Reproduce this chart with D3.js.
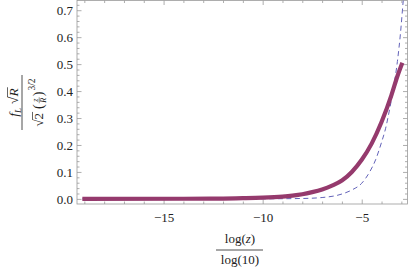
<!DOCTYPE html>
<html>
<head>
<meta charset="utf-8">
<script src="https://cdn.jsdelivr.net/npm/d3@7"></script>
<style>
  body { margin: 0; background: #fff; }
  svg { display: block; }
  text { font-family: "Liberation Serif", "DejaVu Serif", serif; fill: #222; }
</style>
</head>
<body>
<div id="chart"></div>
<script>
// values
var logZ = [-19.1, -14, -12, -11, -10, -9, -8.5, -8, -7.5, -7, -6.5, -6, -5.5, -5, -4.5, -4, -3.5, -3.2, -2.95];
var solidVals = [0, 0.0005, 0.0012, 0.0025, 0.0045, 0.0085, 0.012, 0.017, 0.025, 0.035, 0.049, 0.068, 0.1, 0.145, 0.205, 0.285, 0.385, 0.455, 0.505];
var logZDashed = [-19.1, -10, -8, -7, -6, -5.5, -5, -4.6, -4.3, -4, -3.8, -3.6, -3.4, -3.2, -3.05, -2.9, -2.8];
var dashedVals = [0, 0.0003, 0.0015, 0.005, 0.018, 0.033, 0.058, 0.1, 0.145, 0.21, 0.26, 0.33, 0.41, 0.51, 0.61, 0.74, 0.82];
var xMajor = [-15, -10, -5];
var yMajor = [0, 0.1, 0.2, 0.3, 0.4, 0.5, 0.6, 0.7];

var svgWidth = 409;
var svgHeight = 269;
var margin = {top: 0.5, right: 1.5, bottom: 65, left: 77};
var width = svgWidth - margin.left - margin.right;
var height = svgHeight - margin.top - margin.bottom;

var svg = d3.select("#chart")
  .append("svg")
  .attr("width", svgWidth)
  .attr("height", svgHeight);

var chartGroup = svg.append("g")
  .attr("transform", `translate(${margin.left}, ${margin.top})`);

var xLinearScale = d3.scaleLinear().domain([-19.37, -2.69]).range([0, width]);
var yLinearScale = d3.scaleLinear().domain([-0.019, 0.736]).range([height, 0]);

var xMinor = d3.range(-19, -2).filter(d => xMajor.indexOf(d) < 0);
var yMinor = d3.range(0, 0.74, 0.02).filter(d => Math.abs(d * 10 - Math.round(d * 10)) > 0.01);

// axes with inward ticks on all four sides
function tickAxis(axisFn, scale, values, len, labels) {
  return axisFn(scale).tickValues(values).tickSizeInner(-len).tickSizeOuter(0)
    .tickFormat(labels ? labels : "");
}

var frameColor = "#999";
var axes = [
  {fn: d3.axisBottom, s: xLinearScale, t: `translate(0, ${height})`, lab: d => d3.format("")(d).replace("-", "\u2212")},
  {fn: d3.axisTop, s: xLinearScale, t: "translate(0,0)", lab: null},
  {fn: d3.axisLeft, s: yLinearScale, t: "translate(0,0)", lab: d3.format(".1f")},
  {fn: d3.axisRight, s: yLinearScale, t: `translate(${width},0)`, lab: null}
];
axes.forEach(function(a) {
  var isX = (a.s === xLinearScale);
  var g1 = chartGroup.append("g").attr("transform", a.t)
    .call(tickAxis(a.fn, a.s, isX ? xMajor : yMajor, 4.5, a.lab));
  var g2 = chartGroup.append("g").attr("transform", a.t)
    .call(tickAxis(a.fn, a.s, isX ? xMinor : yMinor, 2.5, null));
  [g1, g2].forEach(function(g) {
    g.select(".domain").remove();
    g.selectAll("line").attr("stroke", frameColor).attr("stroke-width", 0.8);
    g.selectAll("text").style("font-size", "13px").attr("fill", "#222");
  });
  if (a.fn === d3.axisBottom) g1.selectAll("text").attr("dy", "0.71em").attr("y", 9);
  if (a.fn === d3.axisLeft) g1.selectAll("text").attr("x", -4);
});

chartGroup.append("rect")
  .attr("width", width).attr("height", height)
  .attr("fill", "none").attr("stroke", frameColor).attr("stroke-width", 0.8);

chartGroup.append("clipPath").attr("id", "clip")
  .append("rect").attr("width", width).attr("height", height);

var line = d3.line()
  .x(d => xLinearScale(d[0]))
  .y(d => yLinearScale(d[1]))
  .curve(d3.curveMonotoneX);

chartGroup.append("path")
  .datum(d3.zip(logZDashed, dashedVals))
  .attr("clip-path", "url(#clip)")
  .attr("d", line)
  .attr("fill", "none")
  .attr("stroke", "#6262b8")
  .attr("stroke-width", 1)
  .attr("stroke-dasharray", "5,3.5");

chartGroup.append("path")
  .datum(d3.zip(logZ, solidVals))
  .attr("clip-path", "url(#clip)")
  .attr("d", line)
  .attr("fill", "none")
  .attr("stroke", "#953a6d")
  .attr("stroke-width", 4.2)
  .attr("stroke-linecap", "butt");

// lays out a row of text pieces, returns group and width
function pieces(parent, list, baseY) {
  var g = parent.append("g");
  var x = 0;
  list.forEach(function(p) {
    if (p.gap) { x += p.gap; return; }
    var t = g.append("text")
      .attr("x", x)
      .attr("y", baseY + (p.dy || 0))
      .attr("class", p.cls || null)
      .style("font-size", (p.size || 13) + "px")
      .style("font-style", p.italic ? "italic" : "normal")
      .text(p.s);
    var w = t.node().getComputedTextLength();
    if (p.bar) {
      g.append("line").attr("x1", x - 0.5).attr("x2", x + w + 1)
        .attr("y1", baseY - 10.5).attr("y2", baseY - 10.5)
        .attr("stroke", "#222").attr("stroke-width", 0.7);
    }
    x += w;
  });
  return {g: g, w: x};
}

// x axis label
var xl = svg.append("g").attr("transform", "translate(240,0)");
xl.append("text").attr("x", 0).attr("y", 243).attr("text-anchor", "middle")
  .style("font-size", "13px").html("log(<tspan font-style='italic'>z</tspan>)");
xl.append("line").attr("x1", -24).attr("x2", 23).attr("y1", 250).attr("y2", 250)
  .attr("stroke", "#222").attr("stroke-width", 0.8);
xl.append("text").attr("x", 0).attr("y", 264).attr("text-anchor", "middle")
  .style("font-size", "13px").text("log(10)");

// y axis label, rotated fraction
var yl = svg.append("g").attr("transform", "translate(22,102.5) rotate(-90)");
var num = pieces(yl, [
  {s: "f", italic: true, size: 13.5},
  {s: "L", italic: true, size: 9, dy: 3},
  {gap: 4},
  {s: "\u221A", size: 13.5},
  {s: "R", italic: true, bar: true, size: 13.5}
], -4);
num.g.attr("transform", `translate(${-num.w / 2},0)`);

yl.append("line").attr("x1", -27.5).attr("x2", 27.5).attr("y1", 0).attr("y2", 0)
  .attr("stroke", "#222").attr("stroke-width", 0.8);

var den = pieces(yl, [
  {s: "\u221A"},
  {s: "2", bar: true},
  {gap: 4},
  {s: "(", cls: "lp", size: 14},
  {gap: 8},
  {s: ")", size: 14},
  {gap: 1},
  {s: "3/2", size: 9.5, dy: -8.5}
], 21);
var denX = -den.w / 2;
den.g.attr("transform", `translate(${denX},0)`);
// small z over R inside the parentheses
var lp = den.g.select(".lp").node();
var bx = denX + (+lp.getAttribute("x")) + lp.getComputedTextLength();
var small = yl.append("g");
small.append("text").attr("x", bx + 4).attr("y", 15.5).attr("text-anchor", "middle")
  .style("font-size", "8px").style("font-style", "italic").text("z");
small.append("line").attr("x1", bx + 1).attr("x2", bx + 7).attr("y1", 17.2).attr("y2", 17.2)
  .attr("stroke", "#222").attr("stroke-width", 0.5);
small.append("text").attr("x", bx + 4).attr("y", 23.5).attr("text-anchor", "middle")
  .style("font-size", "8px").style("font-style", "italic").text("R");
</script>
</body>
</html>
